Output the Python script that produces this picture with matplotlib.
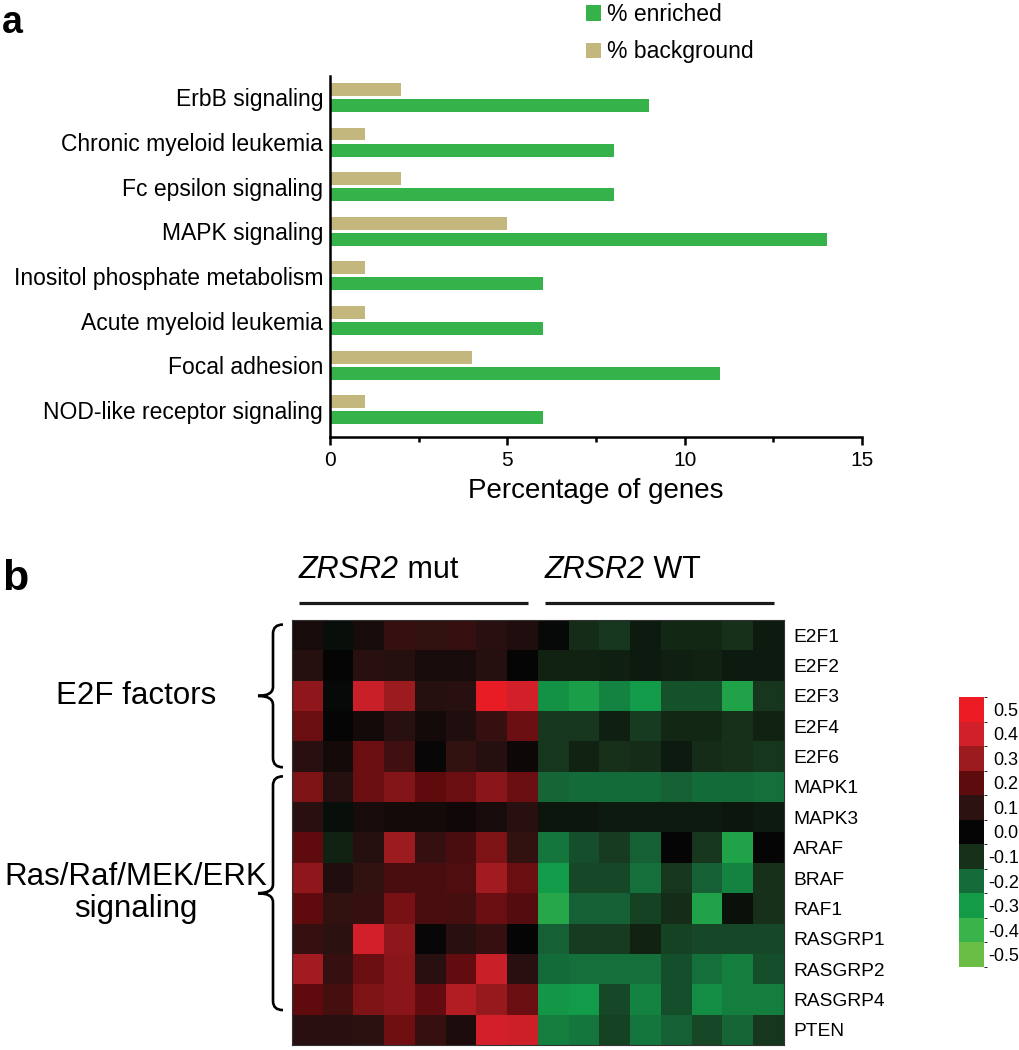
import matplotlib
matplotlib.use("Agg")
import matplotlib.pyplot as plt
import numpy as np
from matplotlib.colors import LinearSegmentedColormap, ListedColormap, BoundaryNorm
from matplotlib.patches import PathPatch
from matplotlib.path import Path
from matplotlib.transforms import blended_transform_factory
import matplotlib.cm as cm

plt.rcParams["font.family"] = ["Liberation Sans", "DejaVu Sans"]

# ---- panel a data ----
pathways = ["ErbB signaling", "Chronic myeloid leukemia", "Fc epsilon signaling",
            "MAPK signaling", "Inositol phosphate metabolism", "Acute myeloid leukemia",
            "Focal adhesion", "NOD-like receptor signaling"]
pct_enriched = [9, 8, 8, 14, 6, 6, 11, 6]
pct_background = [2, 1, 2, 5, 1, 1, 4, 1]
x_ticks = [0, 5, 10, 15]

# ---- panel b data ----
genes = ["E2F1", "E2F2", "E2F3", "E2F4", "E2F6", "MAPK1", "MAPK3", "ARAF", "BRAF",
         "RAF1", "RASGRP1", "RASGRP2", "RASGRP4", "PTEN"]
mut_values = [
    [0.05, -0.02, 0.05, 0.12, 0.11, 0.12, 0.09, 0.07],
    [0.08, 0.00, 0.09, 0.08, 0.05, 0.05, 0.08, 0.00],
    [0.28, -0.01, 0.38, 0.30, 0.08, 0.09, 0.48, 0.40],
    [0.22, 0.00, 0.04, 0.09, 0.04, 0.07, 0.12, 0.22],
    [0.09, 0.04, 0.22, 0.14, 0.01, 0.11, 0.08, 0.02],
    [0.25, 0.08, 0.22, 0.26, 0.20, 0.22, 0.27, 0.22],
    [0.09, -0.02, 0.05, 0.04, 0.04, 0.03, 0.05, 0.09],
    [0.20, -0.07, 0.08, 0.30, 0.12, 0.16, 0.25, 0.11],
    [0.28, 0.07, 0.11, 0.16, 0.16, 0.17, 0.31, 0.22],
    [0.20, 0.11, 0.12, 0.24, 0.16, 0.15, 0.22, 0.18],
    [0.12, 0.10, 0.40, 0.28, 0.01, 0.09, 0.12, 0.00],
    [0.31, 0.12, 0.22, 0.27, 0.09, 0.21, 0.38, 0.09],
    [0.20, 0.15, 0.25, 0.27, 0.21, 0.34, 0.29, 0.22],
    [0.09, 0.09, 0.10, 0.23, 0.12, 0.06, 0.40, 0.39],
]
wt_values = [
    [-0.01, -0.09, -0.11, -0.05, -0.08, -0.08, -0.10, -0.05],
    [-0.07, -0.07, -0.06, -0.05, -0.06, -0.07, -0.05, -0.05],
    [-0.28, -0.32, -0.25, -0.30, -0.16, -0.16, -0.33, -0.11],
    [-0.11, -0.11, -0.06, -0.12, -0.08, -0.08, -0.10, -0.07],
    [-0.11, -0.07, -0.10, -0.09, -0.05, -0.09, -0.10, -0.11],
    [-0.19, -0.20, -0.20, -0.20, -0.18, -0.20, -0.20, -0.21],
    [-0.04, -0.04, -0.05, -0.05, -0.05, -0.05, -0.04, -0.05],
    [-0.22, -0.15, -0.12, -0.18, 0.00, -0.11, -0.33, 0.00],
    [-0.30, -0.14, -0.14, -0.21, -0.11, -0.18, -0.25, -0.10],
    [-0.35, -0.18, -0.18, -0.13, -0.09, -0.33, -0.03, -0.10],
    [-0.18, -0.12, -0.12, -0.07, -0.13, -0.14, -0.14, -0.14],
    [-0.20, -0.21, -0.21, -0.21, -0.15, -0.21, -0.24, -0.15],
    [-0.29, -0.30, -0.14, -0.25, -0.15, -0.27, -0.24, -0.24],
    [-0.24, -0.22, -0.13, -0.22, -0.18, -0.14, -0.19, -0.11],
]
gene_name = "ZRSR2"
group_suffix = [" mut", " WT"]
gene_groups = [("E2F factors", 0, 4), ("Ras/Raf/MEK/ERK\nsignaling", 5, 12)]
levels = [0.5, 0.4, 0.3, 0.2, 0.1, 0.0, -0.1, -0.2, -0.3, -0.4, -0.5]
level_colors = ["#ED1C24", "#D2202A", "#9B1B1F", "#5E0B0E", "#2D1212", "#050505",
                "#17301A", "#156B3A", "#139B48", "#3AB44A", "#6ABD45"]

GREEN = "#35B34A"
TAN = "#C4B77D"

fig = plt.figure(figsize=(10.19, 10.5), dpi=100)
W, H = 1019, 1050


def rect(x0, y0, x1, y1):
    # pixel box (top-left origin) -> figure fraction
    return [x0 / W, 1 - y1 / H, (x1 - x0) / W, (y1 - y0) / H]


# ================= panel a =================
ax = fig.add_axes(rect(330, 76, 862, 437))
y = np.arange(len(pathways))
bh = 0.29
ax.barh(y - 0.18, pct_background, height=bh, color=TAN, label="% background")
ax.barh(y + 0.18, pct_enriched, height=bh, color=GREEN, label="% enriched")
ax.set_ylim(len(pathways) - 1 + 0.61, -0.48)
ax.set_xlim(0, 15)
ax.set_yticks(y)
ax.set_yticklabels(pathways, fontsize=16.5)
ax.tick_params(axis="y", length=0, pad=5)
ax.set_xticks(x_ticks)
ax.set_xticks([2.5, 7.5, 12.5], minor=True)
ax.tick_params(axis="x", which="major", length=6, width=1.8, labelsize=15, pad=4)
ax.tick_params(axis="x", which="minor", length=3.5, width=1.8)
for s in ["top", "right"]:
    ax.spines[s].set_visible(False)
for s in ["left", "bottom"]:
    ax.spines[s].set_linewidth(1.8)
ax.set_xlabel("Percentage of genes", fontsize=20, labelpad=6)

h, l = ax.get_legend_handles_labels()
fig.legend([h[1], h[0]], [l[1], l[0]], loc="upper left",
           bbox_to_anchor=(586 / W, 1 - 3 / H), frameon=False, fontsize=16.5,
           handlelength=0.65, handleheight=0.65, handletextpad=0.25,
           labelspacing=0.62, borderpad=0, borderaxespad=0)

fig.text(2 / W, 1 - 33 / H, "a", fontsize=27, fontweight="bold", va="baseline")

# ================= panel b =================
hm = fig.add_axes(rect(292, 620, 784, 1045))
data = np.hstack([np.array(mut_values), np.array(wt_values)])
cmap = LinearSegmentedColormap.from_list(
    "rg", list(zip(np.linspace(0, 1, len(levels)), level_colors[::-1])))
hm.imshow(data, cmap=cmap, vmin=-0.5, vmax=0.5, aspect="auto", interpolation="nearest")
hm.set_xticks([])
hm.yaxis.tick_right()
hm.set_yticks(np.arange(len(genes)))
hm.set_yticklabels(genes, fontsize=13.8)
hm.tick_params(axis="y", length=0, pad=6.5)
for s in hm.spines.values():
    s.set_linewidth(0.8)
    s.set_color("#333333")

# group headers
ncol = len(mut_values[0])
tr = blended_transform_factory(hm.transData, hm.transAxes)
for gi, suffix in enumerate(group_suffix):
    x0 = gi * ncol - 0.5 + 0.22
    x1 = (gi + 1) * ncol - 0.5 - 0.33
    hm.plot([x0, x1], [1.04, 1.04], color="#1a1a1a", lw=2.3, transform=tr,
            clip_on=False, solid_capstyle="butt")
    t = hm.text(x0, 1.099, gene_name, transform=tr, fontsize=22, ha="left",
                va="baseline", fontstyle="italic")
    hm.annotate(suffix, xy=(1, 0), xycoords=t, fontsize=22, ha="left", va="bottom")

# braces
trb = blended_transform_factory(hm.transAxes, hm.transData)
xm, xe, xt = -19 / 492, -9 / 492, -34 / 492
r = 0.3
for label, r0, r1 in gene_groups:
    y0 = r0 - 0.5 + 0.15
    y1 = r1 + 0.5 - 0.15
    ym = (y0 + y1) / 2
    verts = [(xe, y0), (xm, y0), (xm, y0 + r),
             (xm, ym - r), (xm, ym), (xt, ym),
             (xm, ym), (xm, ym + r),
             (xm, y1 - r), (xm, y1), (xe, y1)]
    codes = [Path.MOVETO, Path.CURVE3, Path.CURVE3,
             Path.LINETO, Path.CURVE3, Path.CURVE3,
             Path.CURVE3, Path.CURVE3,
             Path.LINETO, Path.CURVE3, Path.CURVE3]
    hm.add_patch(PathPatch(Path(verts, codes), fill=False, lw=1.9, color="black",
                           transform=trb, clip_on=False))
    hm.text((136 - 292) / 492, (r0 + r1) / 2, label, transform=trb, fontsize=22.5,
            ha="center", va="center", linespacing=1.1)

fig.text(2 / W, 1 - 590 / H, "b", fontsize=31, fontweight="bold", va="baseline")

# colorbar
cax = fig.add_axes(rect(959, 697, 984, 967))
bounds = np.linspace(-0.55, 0.55, len(levels) + 1)
sm = cm.ScalarMappable(norm=BoundaryNorm(bounds, len(levels)),
                       cmap=ListedColormap(level_colors[::-1]))
cb = fig.colorbar(sm, cax=cax, ticks=levels)
cb.outline.set_visible(False)
cb.ax.set_yticklabels([f"{v:.1f}" for v in levels], ha="right")
cb.ax.tick_params(length=0, labelsize=13, pad=25)

fig.savefig("out.png", dpi=100)
